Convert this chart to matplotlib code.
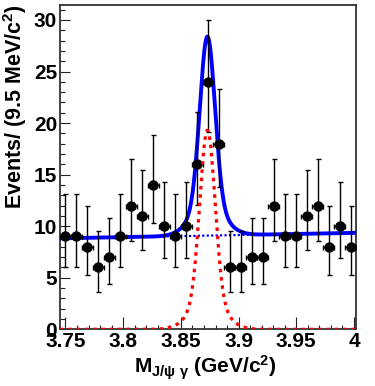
import numpy as np
import matplotlib
matplotlib.use("Agg")
import matplotlib.pyplot as plt
from matplotlib.ticker import MultipleLocator

plt.rcParams['font.family'] = ['Liberation Sans', 'DejaVu Sans']
plt.rcParams['font.weight'] = 'bold'
plt.rcParams['mathtext.fontset'] = 'custom'
plt.rcParams['mathtext.rm'] = 'Liberation Sans:bold'
plt.rcParams['mathtext.bf'] = 'Liberation Sans:bold'
plt.rcParams['mathtext.it'] = 'Liberation Sans'

# data: events per 9.5 MeV bin, starting at 3.750 GeV
bin_width = 0.0095
mass = 3.750 + bin_width * np.arange(27)
counts = [9, 9, 8, 6, 7, 9, 12, 11, 14, 10, 9, 10, 16, 24, 18,
          6, 6, 7, 7, 12, 9, 9, 11, 12, 8, 10, 8]
# asymmetric (poisson) error bars
err_lo = [2.94, 2.94, 2.77, 2.38, 2.58, 2.94, 3.42, 3.27, 3.70, 3.11, 2.94, 3.11, 3.96, 4.86, 4.20,
          2.38, 2.38, 2.58, 2.58, 3.42, 2.94, 2.94, 3.27, 3.42, 2.77, 3.11, 2.77]
err_hi = [4.11, 4.11, 3.95, 3.58, 3.77, 4.11, 4.56, 4.42, 4.83, 4.27, 4.11, 4.27, 5.08, 5.97, 5.32,
          3.58, 3.58, 3.77, 3.77, 4.56, 4.11, 4.11, 4.42, 4.56, 3.95, 4.27, 3.95]

# fit result
peak_mass = 3.873
core_amp, core_sigma = 16.4, 0.0065
wide_amp, wide_sigma = 2.9, 0.0139
bkg_at_375, bkg_slope = 8.83, 2.08

xmin, xmax = 3.750 - bin_width / 2, 3.997 + bin_width / 2
x = np.linspace(xmin, xmax, 800)
signal = core_amp * np.exp(-0.5 * ((x - peak_mass) / core_sigma) ** 2) \
    + wide_amp * np.exp(-0.5 * ((x - peak_mass) / wide_sigma) ** 2)
bkg = bkg_at_375 + bkg_slope * (x - 3.75)
total = signal + bkg

fig = plt.figure(figsize=(3.75, 3.86), dpi=100)
ax = fig.add_axes([60 / 375, 1 - 329.3 / 386, 296 / 375, 324.6 / 386])

ax.plot(x, bkg, color='#0000ff', lw=1.6, linestyle=(0, (1, 1)), zorder=2)
ax.plot(x, total, color='#0000ff', lw=2.8, zorder=3)
ax.plot(x, signal, color='#ff0000', lw=2.3, linestyle=(0, (1.1, 1.5)), zorder=5)
ax.errorbar(mass, counts, yerr=[err_lo, err_hi], xerr=bin_width / 2, fmt='o',
            color='black', ms=6.5, elinewidth=1.0, capsize=1.8, capthick=1.0, zorder=4)

ax.set_xlim(xmin, xmax)
ax.set_ylim(0, 31.48)
ax.xaxis.set_major_locator(MultipleLocator(0.05))
ax.xaxis.set_minor_locator(MultipleLocator(0.01))
ax.yaxis.set_major_locator(MultipleLocator(5))
ax.yaxis.set_minor_locator(MultipleLocator(1))
ax.set_xticks([3.75, 3.8, 3.85, 3.9, 3.95, 4.0])
ax.set_xticklabels(['3.75', '3.8', '3.85', '3.9', '3.95', '4'])
ax.tick_params(which='both', direction='in', top=False, right=False, labelsize=15, color='#222222')
ax.tick_params(axis='y', which='major', length=7.5, width=0.8, pad=2)
ax.tick_params(axis='y', which='minor', length=3.6, width=0.8)
ax.tick_params(axis='x', which='major', length=8.5, width=0.8, pad=2)
ax.tick_params(axis='x', which='minor', length=3.2, width=0.8)
for lab in ax.get_xticklabels() + ax.get_yticklabels():
    lab.set_fontweight('bold')
for sp in ax.spines.values():
    sp.set_color('#333333')
    sp.set_linewidth(1.3)

ax.set_ylabel(r'Events/ (9.5 MeV/c$^{2}$)', fontsize=15.5, fontweight='bold', loc='top')
ax.yaxis.set_label_coords(-0.105, 1.0)
ax.set_xlabel(r'M$_{J/\psi\ \gamma}$ (GeV/c$^{2}$)', fontsize=15, fontweight='bold')
ax.xaxis.set_label_coords(0.49, -0.075)

fig.savefig('out.png', dpi=100)
